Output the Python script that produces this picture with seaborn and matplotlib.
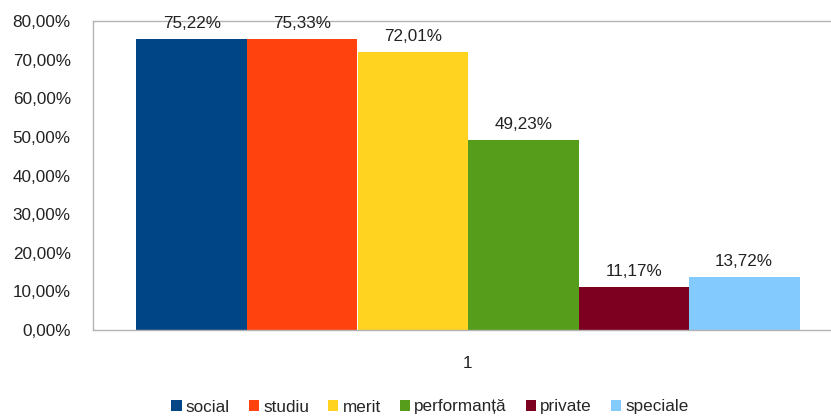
import matplotlib
matplotlib.use("Agg")
import matplotlib.pyplot as plt
import seaborn as sns
import pandas as pd

categories = ["social", "studiu", "merit", "performanță", "private", "speciale"]
values = [75.22, 75.33, 72.01, 49.23, 11.17, 13.72]
group = ["1"] * 6
colors = ["#004586", "#ff420e", "#ffd320", "#579d1c", "#7e0021", "#83caff"]
yticks = [0, 10, 20, 30, 40, 50, 60, 70, 80]

df = pd.DataFrame({"grup": group, "categorie": categories, "valoare": values})

sns.set_style("white")
plt.rcParams["font.family"] = ["Liberation Sans", "DejaVu Sans"]

FS = 12.3
fig = plt.figure(figsize=(8.31, 4.18), dpi=100)
W, H = 831, 418
ax = fig.add_axes([93 / W, (H - 330) / H, (843 - 93) / W, (330 - 21) / H])

sns.barplot(data=df, x="grup", y="valoare", hue="categorie", palette=colors,
            width=0.884, gap=0, dodge=True, ax=ax, saturation=1, legend=True,
            linewidth=0, edgecolor="none")

ax.set_ylim(0, 80)
ax.set_xlim(-0.5, 0.5)
ax.set_yticks(yticks)
ax.set_yticklabels([f"{v:.2f}".replace(".", ",") + "%" for v in yticks], fontsize=FS, color="#222222")
ax.tick_params(axis="y", length=0, pad=16)
ax.tick_params(axis="x", length=0, pad=19, labelsize=FS, labelcolor="#222222")
ax.set_xlabel("")
ax.set_ylabel("")

for s in ["left", "top", "bottom", "right"]:
    ax.spines[s].set_color("#b3b3b3")
    ax.spines[s].set_linewidth(1)

for cont in ax.containers:
    for bar in cont:
        h = bar.get_height()
        ax.annotate(f"{h:.2f}".replace(".", ",") + "%",
                    (bar.get_x() + bar.get_width() / 2, h),
                    xytext=(0, 6), textcoords="offset points",
                    ha="center", va="bottom", fontsize=FS, color="#222222")

handles, labels = ax.get_legend_handles_labels()
ax.legend_.remove()
fig.legend(handles, labels, loc="center", bbox_to_anchor=(430 / W, 1 - 407 / H),
           ncol=6, frameon=False, fontsize=FS, handlelength=0.6, handleheight=0.6,
           handletextpad=0.25, columnspacing=1.1)

fig.savefig("out.png", dpi=100)
